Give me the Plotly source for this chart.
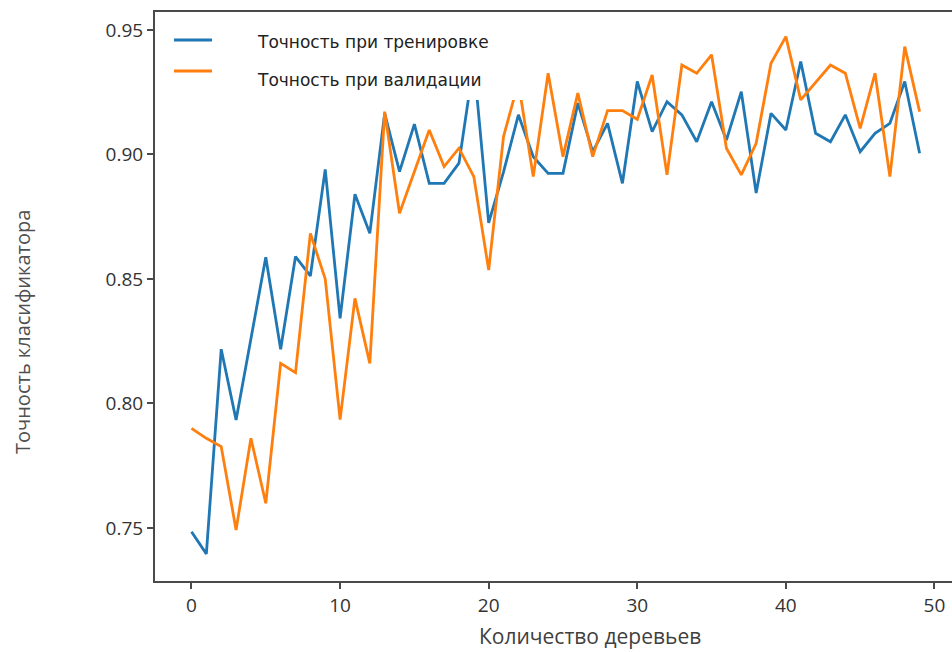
import plotly.graph_objects as go

n_trees = list(range(50))
train_acc = [0.7485, 0.7396, 0.8218, 0.7934, 0.826, 0.8587, 0.8218, 0.859, 0.8512, 0.894,
             0.8342, 0.884, 0.8683, 0.9165, 0.8931, 0.9122, 0.8884, 0.8884, 0.8965, 0.937,
             0.8725, 0.893, 0.9159, 0.8991, 0.8924, 0.8924, 0.9206, 0.9011, 0.9125, 0.8884,
             0.9293, 0.9092, 0.9212, 0.9159, 0.9051, 0.9212, 0.9058, 0.9252, 0.8845, 0.9165,
             0.9098, 0.9373, 0.9085, 0.9051, 0.9159, 0.9011, 0.9085, 0.9125, 0.9293, 0.9005]
val_acc = [0.790, 0.786, 0.7827, 0.7492, 0.786, 0.7599, 0.8161, 0.8124, 0.8683, 0.850,
           0.7935, 0.8422, 0.8161, 0.9172, 0.8764, 0.893, 0.9098, 0.8951, 0.9025, 0.8911,
           0.8536, 0.9072, 0.929, 0.8911, 0.9326, 0.8991, 0.9246, 0.8991, 0.9176, 0.9176,
           0.9141, 0.9319, 0.8918, 0.9359, 0.9326, 0.940, 0.9025, 0.8918, 0.9045, 0.9366,
           0.9473, 0.9219, 0.929, 0.9359, 0.9326, 0.9105, 0.9326, 0.8911, 0.9433, 0.9172]

series_names = ["Точность при тренировке", "Точность при валидации"]
series_colors = ["#1f77b4", "#ff7f0e"]
x_title = "Количество деревьев"
y_title = "Точность класификатора"
x_ticks = [0, 10, 20, 30, 40, 50]
y_ticks = [0.75, 0.80, 0.85, 0.90, 0.95]

fig = go.Figure()
for vals, name, col in zip([train_acc, val_acc], series_names, series_colors):
    fig.add_trace(go.Scatter(x=n_trees, y=vals, mode="lines", name=name,
                             line=dict(color=col, width=2.8), showlegend=False))

axis_common = dict(showline=True, linecolor="#4a4a4a", linewidth=2, ticks="outside",
                   ticklen=6, tickwidth=1.5, tickcolor="#4a4a4a", showgrid=False,
                   zeroline=False, tickfont=dict(family="Open Sans", size=19, color="#333333"))

fig.update_xaxes(range=[-2.456, 51.18], tickvals=x_ticks, mirror=True, **axis_common)
fig.update_yaxes(range=[0.7287, 0.9572], tickvals=y_ticks, tickformat=".2f", **axis_common)

shapes = [
    dict(type="rect", xref="paper", yref="paper", x0=0.004, x1=0.4705, y0=0.8453, y1=0.9965,
         fillcolor="white", line=dict(width=0), layer="above"),
    dict(type="line", xref="paper", yref="paper", x0=0.0238, x1=0.0715, y0=0.9508, y1=0.9508,
         line=dict(color=series_colors[0], width=3), layer="above"),
    dict(type="line", xref="paper", yref="paper", x0=0.0238, x1=0.0715, y0=0.8963, y1=0.8963,
         line=dict(color=series_colors[1], width=3), layer="above"),
]

annotations = [
    dict(text=series_names[0], xref="paper", yref="paper", x=0.1255, y=0.9473,
         xanchor="left", yanchor="middle", showarrow=False,
         font=dict(family="DejaVu Sans", size=17, color="#222222")),
    dict(text=series_names[1], xref="paper", yref="paper", x=0.1255, y=0.8805,
         xanchor="left", yanchor="middle", showarrow=False,
         font=dict(family="DejaVu Sans", size=17, color="#222222")),
    dict(text=x_title, xref="paper", yref="paper", x=0.5458, y=-0.0967,
         xanchor="center", yanchor="middle", showarrow=False,
         font=dict(family="Open Sans", size=21, color="#404040")),
    dict(text=y_title, xref="paper", yref="paper", x=-0.1669, y=0.4376, textangle=-90,
         xanchor="center", yanchor="middle", showarrow=False,
         font=dict(family="Open Sans", size=20, color="#505050")),
]

fig.update_layout(width=952, height=652, margin=dict(l=155, r=0, t=12, b=71),
                  paper_bgcolor="white", plot_bgcolor="white",
                  shapes=shapes, annotations=annotations)

fig.write_html("out.html")
